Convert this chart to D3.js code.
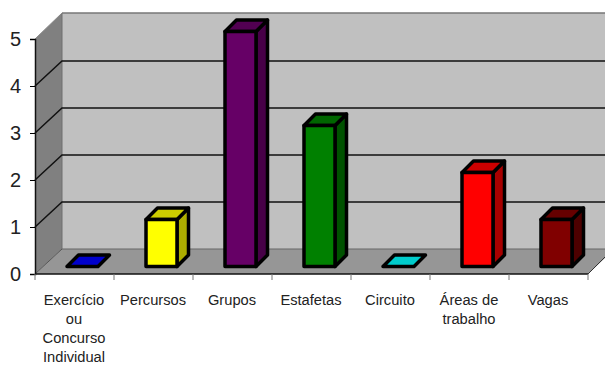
<!DOCTYPE html>
<html><head><meta charset="utf-8">
<script src="https://cdnjs.cloudflare.com/ajax/libs/d3/7.8.5/d3.min.js"></script>
<style>html,body{margin:0;padding:0;background:#fff}svg{display:block}</style>
</head><body><div id="c"></div>
<script>
const categories=["Exercício|ou|Concurso|Individual","Percursos","Grupos","Estafetas","Circuito","Áreas de|trabalho","Vagas"];
const values=[0,1,5,3,0,2,1];
const frontColors=["#0000cc","#ffff00","#660066","#008000","#00cccc","#ff0000","#800000"];
const topColors=["#0000a0","#cccc00","#520052","#006600","#00a3a3","#cc0000","#660000"];
const sideColors=["#000099","#adad00","#470047","#005200","#008f8f","#a80000","#4d0000"];
const yTicks=[0,1,2,3,4,5];

const W=605,H=365,dx=27,dy=25,bd=11.5,inset=7.5;
const svg=d3.select("#c").append("svg").attr("width",W).attr("height",H)
  .style("font-family","'Liberation Sans',Arial,sans-serif");
const x=d3.scaleBand().domain(categories).range([35,588]);
const y=d3.scaleLinear().domain([0,5]).range([274,39]);
const poly=(pts,fill,stroke,sw)=>svg.append("polygon").attr("points",pts.map(p=>p.join(",")).join(" "))
  .attr("fill",fill).attr("stroke",stroke||"none").attr("stroke-width",sw||0).attr("stroke-linejoin","round");
const x0=x.range()[0],x1=x.range()[1];
// walls
poly([[x0+dx,y(5)-dy-1],[W,y(5)-dy-1],[W,y(0)-dy],[x0+dx,y(0)-dy]],"#c0c0c0");
poly([[x0,y(5)],[x0+dx,y(5)-dy-1],[x0+dx,y(0)-dy],[x0,y(0)]],"#808080");
poly([[x0,y(0)],[x0+dx,y(0)-dy],[W,y(0)-dy],[W,y(0)-dy+9],[x1,y(0)]],"#969696");
// wall edges
svg.append("line").attr("x1",x0+dx).attr("x2",W).attr("y1",y(5)-dy-1).attr("y2",y(5)-dy-1).attr("stroke","#777").attr("stroke-width",1.5);
svg.append("line").attr("x1",x0+dx).attr("x2",x0+dx).attr("y1",y(5)-dy-1).attr("y2",y(0)-dy).attr("stroke","#6e6e6e").attr("stroke-width",1);
svg.append("line").attr("x1",x0+dx).attr("x2",W).attr("y1",y(0)-dy).attr("y2",y(0)-dy).attr("stroke","#666").attr("stroke-width",1);
// gridlines
yTicks.filter(t=>t>0&&t<5).forEach(t=>{
  svg.append("polyline").attr("points",[[x0,y(t)],[x0+dx,y(t)-dy],[W,y(t)-dy]].map(p=>p.join(",")).join(" "))
    .attr("fill","none").attr("stroke","#111").attr("stroke-width",1.5);
});
svg.append("line").attr("x1",x0).attr("y1",y(5)).attr("x2",x0+dx).attr("y2",y(5)-dy-1).attr("stroke","#888").attr("stroke-width",1);
svg.append("line").attr("x1",x0).attr("y1",y(0)).attr("x2",x0+dx).attr("y2",y(0)-dy).attr("stroke","#555").attr("stroke-width",1);
svg.append("line").attr("x1",x1).attr("y1",y(0)).attr("x2",W).attr("y2",y(0)-17).attr("stroke","#333").attr("stroke-width",1);
// axes
const gy=svg.append("g").attr("transform",`translate(${x0},0)`).call(d3.axisLeft(y).tickValues(yTicks).tickFormat(d3.format("d")).tickSize(5).tickPadding(9));
gy.select(".domain").attr("stroke","#111").attr("stroke-width",1.5);
gy.selectAll("text").attr("font-size",20).attr("fill","#222").attr("font-family","'Liberation Sans',Arial,sans-serif");
const gx=svg.append("g").attr("transform",`translate(0,${y(0)})`);
gx.append("line").attr("x1",x0).attr("x2",x1).attr("stroke","#111").attr("stroke-width",1.5);
gx.selectAll("line.t").data(categories.concat([null])).join("line").attr("class","t")
  .attr("x1",d=>d?x(d):x1).attr("x2",d=>d?x(d):x1).attr("y1",0).attr("y2",6).attr("stroke","#777");
// bars
categories.forEach((c,i)=>{
  const L=x(c)+32,R=L+31,B=y(0)-inset,T=B-(y(0)-y(values[i]));
  const fs="#000",sw=3.5;
  if(values[i]>0){
    poly([[R,T],[R+bd,T-bd],[R+bd,B-bd],[R,B]],sideColors[i],fs,sw);
    poly([[L,T],[L+bd,T-bd],[R+bd,T-bd],[R,T]],topColors[i],fs,sw);
    poly([[L,T],[R,T],[R,B],[L,B]],frontColors[i],fs,sw);
  }else{
    poly([[L,B],[L+bd,B-bd],[R+bd,B-bd],[R,B]],frontColors[i],fs,sw);
  }
});
// category labels
categories.forEach(c=>{
  const lines=c.split("|");
  const t=svg.append("text").attr("text-anchor","middle").attr("font-size",14.7).attr("fill","#222");
  lines.forEach((l,k)=>t.append("tspan").attr("x",x(c)+x.bandwidth()/2-0.5).attr("y",305+k*19).text(l));
});
</script></body></html>
